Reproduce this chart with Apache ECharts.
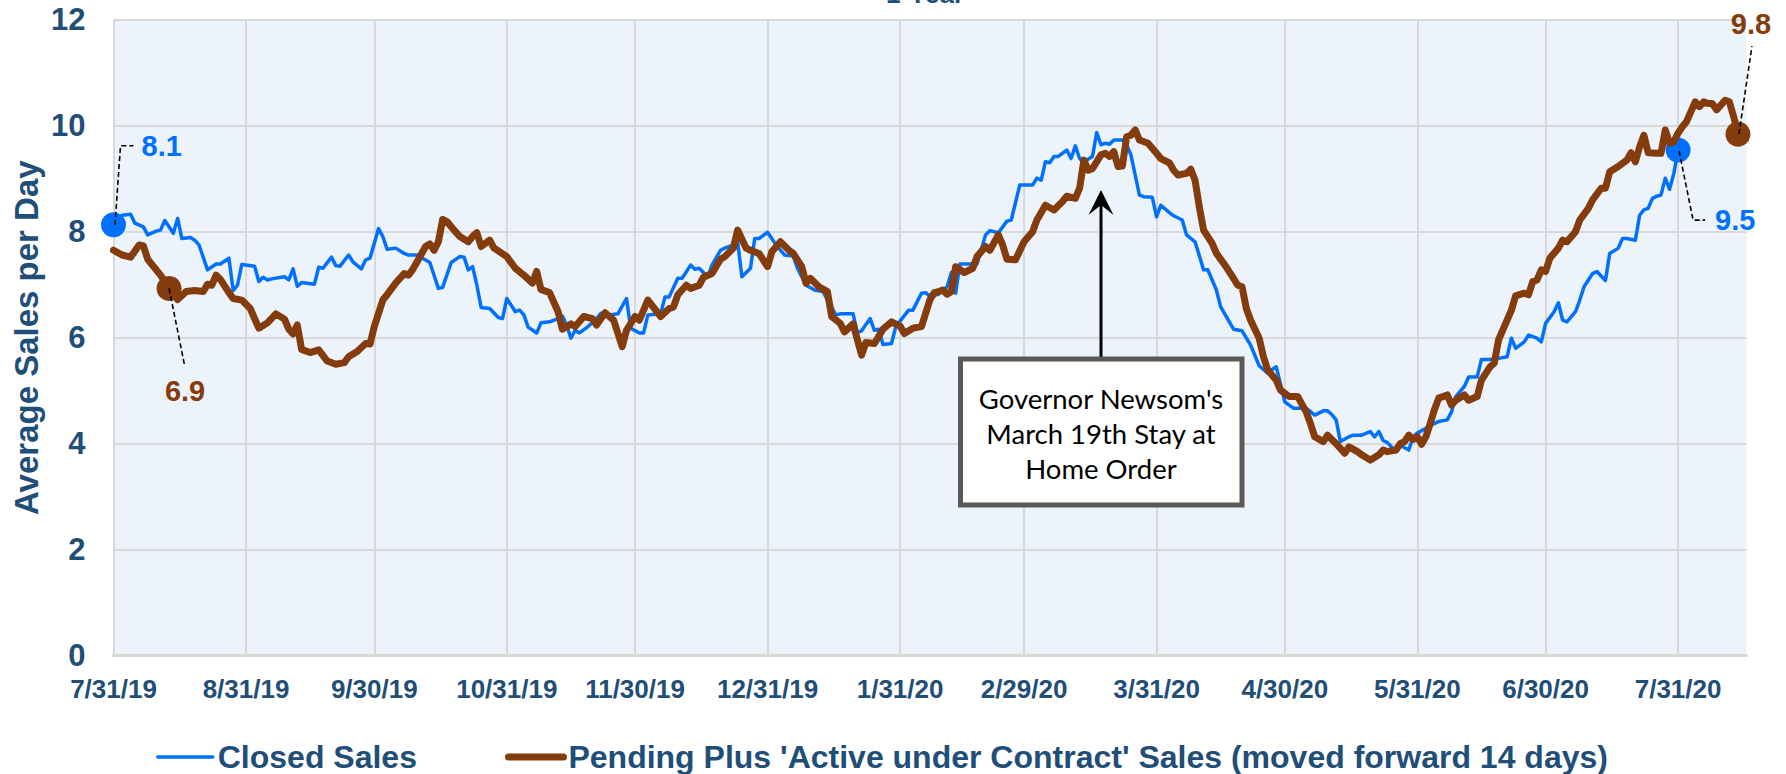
<!DOCTYPE html>
<html><head><meta charset="utf-8">
<script src="https://cdn.jsdelivr.net/npm/echarts@6/dist/echarts.min.js"></script>
<style>html,body{margin:0;padding:0;background:#fff}#c{width:1786px;height:774px}</style>
</head><body><div id="c"></div>
<script>
// x values are days since 7/31/19
const tickDays = [0,31,61,92,122,153,184,213,244,274,305,335,366];
const tickLabels = ['7/31/19','8/31/19','9/30/19','10/31/19','11/30/19','12/31/19','1/31/20','2/29/20','3/31/20','4/30/20','5/31/20','6/30/20','7/31/20'];
const seriesNames = ['Closed Sales', "Pending Plus 'Active under Contract' Sales (moved forward 14 days)"];

const closedDays = [
0,2,4,5,7,8,10,11,12,14, 15,16,18,19,20,22,24,25,27,28, 29,30,33,34,35,36,37,40,41,42,
43,44,47,48,49,51,52,53,55,56, 58,59,60,62,63,64,66,68,69,71, 74,76,77,79,81,82,83,84,85,86,
88,90,91,92,94,95,96,97,99,100, 102,104,105,106,107,108,109,111,113,114, 116,118,120,121,123,124,125,128,129,130,
132,133,135,136,137,139,140,142,143,145, 146,147,149,150,151,153,155,157,159,160, 162,164,166,167,169,170,173,174,175,177,
178,179,180,182,183,186,187,189,190,191, 193,195,196,197,198,202,204,205,207,209, 210,212,215,216,217,218,219,220,221,223,
224,225,226,227,229,230,231,232,233,234, 236,237,238,239,240,241,243,244,245,247, 248,250,251,253,255,256,258,259,262,264,
266,268,270,271,272,274,276,277,279,281, 283,284,285,286,287,289,290,292,294,295, 296,297,298,300,301,303,304,305,307,309,
310,312,313,314,316,317,319,320,322,324, 326,327,328,330,331,333,334,335,337,338, 339,340,342,343,344,346,347,349,350,352,
353,354,356,357,358,359,360,361,362,363, 364,365,366];
const closedSales = [
8.13,8.31,8.33,8.16,8.09,7.94,8.01,8.03,8.21,7.97, 8.25,7.87,7.89,7.84,7.75,7.28,7.39,7.39,7.5,6.89, 6.99,7.38,7.35,7.06,7.14,7.09,7.11,7.15,7.09,7.3,
6.97,7.04,7.01,7.33,7.31,7.52,7.36,7.35,7.56,7.43, 7.3,7.47,7.5,8.06,7.91,7.67,7.69,7.59,7.56,7.56, 7.42,6.93,6.95,7.42,7.53,7.52,7.28,7.34,6.99,6.57,
6.55,6.38,6.36,6.74,6.49,6.52,6.43,6.2,6.09,6.28, 6.3,6.36,6.41,6.24,5.99,6.14,6.09,6.21,6.36,6.46, 6.43,6.45,6.74,6.18,6.09,6.09,6.43,6.45,6.77,6.77,
7.12,7.12,7.37,7.29,7.31,7.15,7.37,7.65,7.69,7.75, 7.81,7.15,7.31,7.87,7.87,7.99,7.75,7.56,7.54,7.31, 6.99,6.9,6.87,6.71,6.43,6.45,6.45,6.1,6.13,6.36,
6.14,6.16,5.87,5.89,6.21,6.52,6.52,6.84,6.85,6.78, 6.82,6.96,7.23,6.84,7.39,7.39,7.94,8.02,7.98,8.2, 8.22,8.88,8.88,9.01,8.97,9.32,9.3,9.42,9.42,9.54,
9.38,9.62,9.38,9.32,9.42,9.87,9.64,9.67,9.65,9.73, 9.73,9.64,9.45,9.07,8.69,8.66,8.65,8.28,8.5,8.36, 8.3,8.22,7.94,7.81,7.28,7.28,6.9,6.58,6.16,6.13,
5.86,5.47,5.33,5.4,5.45,4.79,4.67,4.67,4.67,4.54, 4.62,4.62,4.55,4.45,4.04,4.13,4.16,4.16,4.23,4.13, 4.23,4.06,4.02,3.85,3.97,3.88,4.13,4.2,4.29,4.38,
4.42,4.45,4.6,4.89,5.08,5.26,5.26,5.59,5.59,5.61, 5.64,5.99,5.8,5.92,6.05,5.99,5.92,6.27,6.49,6.66, 6.33,6.3,6.49,6.71,6.96,7.21,7.25,7.08,7.59,7.69,
7.87,7.87,7.84,8.31,8.41,8.44,8.63,8.67,8.69,9.01, 8.8,9.1,9.54];

const pendingDays = [
0,2,4,6,7,8,11,13,15,17, 19,21,22,23,24,25,27,28,30,32, 33,34,36,38,40,41,42,43,44,46,
48,50,52,54,55,57,59,60,61,63, 64,66,68,69,70,71,73,74,75,76, 77,78,80,81,83,84,85,86,88,89,
90,92,94,96,98,99,100,102,104,105, 107,108,110,112,113,115,117,119,120,122, 123,125,128,130,131,132,134,135,137,138,
140,142,143,145,146,148,149,151,153,154, 156,158,159,161,162,163,165,167,168,170, 171,173,175,176,178,180,182,184,185,187,
189,191,192,193,194,195,196,197,199,201, 202,204,205,207,208,209,211,213,215,216, 218,220,222,223,225,226,227,228,229,231,
232,233,234,235,236,237,238,239,240,242, 244,245,247,248,249,251,252,253,254,255, 257,258,260,262,263,264,265,266,268,269,
270,272,273,275,277,279,280,281,283,284, 286,288,289,291,292,294,296,297,298,300, 301,302,303,304,305,306,307,308,309,310,
312,313,314,316,317,319,320,322,323,324, 326,327,328,330,331,332,333,334,335,336, 338,339,340,342,343,345,346,348,349,350,
352,354,355,356,357,358,359,361,362,363, 364,365,366,367,368,370,371,372,373,374, 375,377,378,379,380];
const pendingSales = [
7.65,7.56,7.52,7.75,7.73,7.48,7.18,6.93,6.72,6.87, 6.89,6.87,7.01,6.99,7.18,7.1,6.85,6.74,6.71,6.55, 6.36,6.18,6.28,6.45,6.35,6.16,6.07,6.24,5.78,5.72,
5.77,5.56,5.5,5.53,5.64,5.74,5.89,5.88,6.21,6.71, 6.81,7.03,7.21,7.18,7.29,7.43,7.72,7.77,7.65,7.81, 8.23,8.19,8.0,7.91,7.81,7.91,7.98,7.72,7.84,7.69,
7.64,7.53,7.31,7.18,7.03,7.25,6.91,6.85,6.49,6.16, 6.26,6.21,6.4,6.36,6.24,6.47,6.33,5.83,6.14,6.4, 6.33,6.71,6.4,6.55,6.58,6.81,6.99,6.93,6.99,7.14,
7.21,7.48,7.53,7.69,8.03,7.69,7.65,7.59,7.34,7.62, 7.81,7.65,7.59,7.34,7.03,7.12,6.96,6.87,6.4,6.27, 6.11,6.26,5.67,5.91,5.89,6.16,6.3,6.22,6.08,6.18,
6.21,6.72,6.85,6.87,6.9,6.82,6.87,7.34,7.23,7.31, 7.53,7.72,7.65,7.94,7.75,7.48,7.47,7.81,8.0,8.22, 8.5,8.41,8.57,8.67,8.63,8.82,9.35,9.16,9.19,9.45,
9.48,9.42,9.51,9.23,9.24,9.79,9.82,9.92,9.73,9.67, 9.48,9.38,9.3,9.16,9.07,9.1,9.18,8.97,8.47,8.03, 7.78,7.59,7.37,7.12,6.99,6.96,6.55,6.33,5.99,5.64,
5.39,5.2,5.01,4.89,4.89,4.6,4.38,4.13,4.04,4.16, 4.0,3.82,3.94,3.85,3.79,3.69,3.79,3.88,3.85,3.88, 4.0,4.04,4.16,4.08,4.13,3.99,4.13,4.38,4.64,4.86,
4.92,4.73,4.82,4.92,4.82,4.89,5.2,5.45,5.52,5.96, 6.33,6.52,6.79,6.84,6.81,7.06,7.09,7.28,7.25,7.5, 7.69,7.84,7.81,8.0,8.22,8.44,8.6,8.82,8.82,9.13,
9.23,9.35,9.49,9.32,9.6,9.82,9.49,9.48,9.48,9.92, 9.67,9.7,9.86,9.98,10.08,10.45,10.36,10.45,10.42,10.42, 10.3,10.48,10.45,10.17,9.84];

// highlighted points (by day) with labels
const closedLabeledDays = [0, 366];
const pendingLabeledDays = [13, 380];
const annotationDay = 231;
const annotationText = "Governor Newsom's\nMarch 19th Stay at\nHome Order";
const titleText = '1-Year';

const BLUE = '#0070FF', BROWN = '#843C0C', NAVY = '#1F4E79', GRIDC = '#D9D9D9';
const FONT = 'Liberation Sans, Arial, sans-serif';

// label placement relative to point centre (presentation only)
const labelPlace = {
  '0-0':   {dx: 28, dy: -79, align: 'left',   pts: [[1.5, 0], [7, -79], [20, -79]]},
  '0-366': {dx: 37, dy: 70,  align: 'left',   pts: [[1, 1], [15, 70], [27, 70]]},
  '1-13':  {dx: 16, dy: 103, align: 'center', pts: [[0, 0], [15.5, 77]]},
  '1-380': {dx: 13, dy: -110, align: 'center', pts: [[1, 0], [14, -88]]}
};

function buildData(days, vals, labeled, color) {
  return days.map((d, i) => {
    if (labeled.indexOf(d) < 0) return [d, vals[i]];
    return {
      value: [d, vals[i]],
      symbol: 'circle', symbolSize: 25,
      itemStyle: {color: color},
      label: {show: true, color: color, fontFamily: FONT, fontWeight: 'bold', fontSize: 29,
               formatter: p => p.value[1].toFixed(1)}
    };
  });
}
const allDays = [closedDays, pendingDays];
function layoutFn(params) {
  const d = allDays[params.seriesIndex][params.dataIndex];
  const spec = labelPlace[params.seriesIndex + '-' + d];
  if (!spec) return {};
  const r = params.rect;
  const cx = r.x + r.width / 2, cy = r.y + r.height / 2;
  return {x: cx + spec.dx, y: cy + spec.dy, align: spec.align, verticalAlign: 'middle'};
}

const chart = echarts.init(document.getElementById('c'), null, {renderer: 'svg', width: 1786, height: 774});
chart.setOption({
  animation: false,
  backgroundColor: '#fff',
  grid: {left: 113.5, right: 39.5, top: 19.7, bottom: 118.3, show: true, backgroundColor: '#EDF3FA', borderWidth: 0},
  xAxis: {
    type: 'value', min: 0, max: 382,
    axisLine: {show: true, lineStyle: {color: GRIDC, width: 3}},
    axisTick: {show: false, customValues: tickDays},
    splitLine: {show: true, lineStyle: {color: GRIDC, width: 2}},
    axisLabel: {customValues: tickDays, formatter: v => tickLabels[tickDays.indexOf(v)] || '',
      fontFamily: FONT, fontWeight: 'bold', fontSize: 26, color: NAVY, margin: 20}
  },
  yAxis: {
    type: 'value', min: 0, max: 12, interval: 2,
    name: 'Average Sales per Day', nameLocation: 'middle', nameGap: 71, nameMoveOverlap: false,
    nameTextStyle: {fontFamily: FONT, fontWeight: 'bold', fontSize: 33, color: NAVY},
    axisLine: {show: false}, axisTick: {show: false},
    splitLine: {show: true, lineStyle: {color: GRIDC, width: 2}},
    axisLabel: {fontFamily: FONT, fontWeight: 'bold', fontSize: 31, color: NAVY, margin: 28}
  },
  legend: {
    left: 156, top: 741, padding: 0, itemGap: 88, itemWidth: 55, itemHeight: 10,
    textStyle: {fontFamily: FONT, fontWeight: 'bold', fontSize: 32, color: NAVY},
    itemStyle: {opacity: 0},
    lineStyle: {width: 'inherit', cap: 'round'},
    data: seriesNames
  },
  series: [
    {name: seriesNames[0], type: 'line', z: 2, symbol: 'none', showSymbol: true,
     lineStyle: {color: BLUE, width: 3.5, join: 'round'}, itemStyle: {color: BLUE},
     labelLayout: layoutFn,
     data: buildData(closedDays, closedSales, closedLabeledDays, BLUE)},
    {name: seriesNames[1], type: 'line', z: 3, symbol: 'none', showSymbol: true,
     lineStyle: {color: BROWN, width: 7, join: 'round', cap: 'round'}, itemStyle: {color: BROWN},
     labelLayout: layoutFn,
     data: buildData(pendingDays, pendingSales, pendingLabeledDays, BROWN)}
  ]
});

// leader lines from the library-positioned points to their labels
const leaders = [];
[[0, closedDays, closedSales, closedLabeledDays], [1, pendingDays, pendingSales, pendingLabeledDays]].forEach(([si, days, vals, lab]) => {
  lab.forEach(d => {
    const i = days.indexOf(d);
    const c = chart.convertToPixel({gridIndex: 0}, [d, vals[i]]);
    const spec = labelPlace[si + '-' + d];
    leaders.push({type: 'polyline', z: 20, silent: true,
      shape: {points: spec.pts.map(p => [c[0] + p[0], c[1] + p[1]])},
      style: {stroke: '#000', lineWidth: 1.6, lineDash: [5, 3], fill: null}});
  });
});

const ax = chart.convertToPixel({xAxisIndex: 0}, annotationDay);
chart.setOption({
  graphic: leaders.concat([
    {type: 'text', x: 925, y: -19, z: 10, style: {text: titleText, fill: NAVY, font: 'bold 26px ' + FONT, align: 'center', verticalAlign: 'top'}},
    {type: 'line', z: 10, shape: {x1: ax, y1: 358, x2: ax, y2: 203}, style: {stroke: '#000', lineWidth: 3}},
    {type: 'polygon', z: 10, shape: {points: [[ax, 190], [ax - 12.5, 215], [ax, 205], [ax + 12.5, 215]]}, style: {fill: '#000'}},
    {type: 'rect', z: 10, shape: {x: ax - 140.5, y: 359, width: 281.5, height: 146}, style: {fill: '#fff', stroke: '#595959', lineWidth: 5}},
    {type: 'text', z: 11, x: ax, y: 433, style: {text: annotationText, fill: '#000', font: '27.5px Lato, sans-serif', align: 'center', verticalAlign: 'middle', lineHeight: 35}}
  ])
});
</script></body></html>
